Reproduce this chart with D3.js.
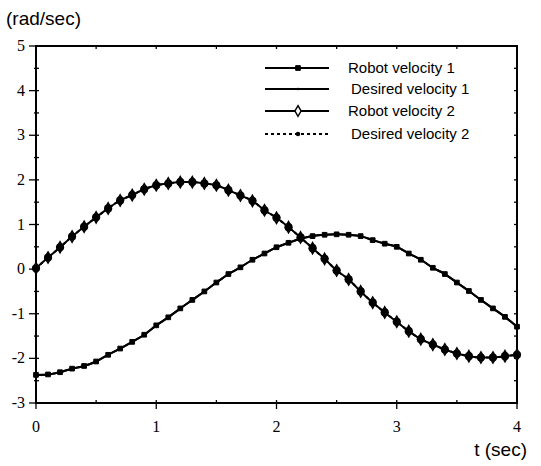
<!DOCTYPE html>
<html>
<head>
<meta charset="utf-8">
<script src="https://cdn.jsdelivr.net/npm/d3@7"></script>
<style>
  body { margin: 0; background: #fff; }
  text { fill: #000; }
</style>
</head>
<body>
<script>
var width = 541;
var height = 466;
var margin = {top: 46, right: 24, bottom: 63, left: 36};

// time samples every 0.1 s
var times = d3.range(0, 41).map(function(i) { return i / 10; });

// values (rad/sec)
var robot1 = [-2.37, -2.36, -2.31, -2.23, -2.17, -2.07, -1.92, -1.78, -1.63, -1.47,
  -1.26, -1.08, -0.88, -0.69, -0.50, -0.30, -0.11, 0.04, 0.21, 0.35,
  0.49, 0.59, 0.68, 0.74, 0.77, 0.78, 0.77, 0.74, 0.65, 0.57,
  0.50, 0.35, 0.21, 0.03, -0.11, -0.30, -0.49, -0.69, -0.88, -1.07, -1.29];
var desired1 = robot1.slice();
var robot2 = [0.02, 0.26, 0.49, 0.73, 0.95, 1.16, 1.36, 1.54, 1.66, 1.79,
  1.88, 1.92, 1.95, 1.95, 1.92, 1.88, 1.77, 1.65, 1.53, 1.32,
  1.15, 0.94, 0.71, 0.47, 0.23, -0.03, -0.23, -0.50, -0.75, -0.97,
  -1.18, -1.39, -1.57, -1.69, -1.80, -1.89, -1.95, -1.98, -1.98, -1.95, -1.92];
var desired2 = robot2.slice();

var legendLabels = ["Robot velocity 1", "Desired velocity 1", "Robot velocity 2", "Desired velocity 2"];
var xTicks = [0, 1, 2, 3, 4];
var yTicks = [-3, -2, -1, 0, 1, 2, 3, 4, 5];

var xScale = d3.scaleLinear()
    .domain([0, 4])
    .range([margin.left, width - margin.right]);
var yScale = d3.scaleLinear()
    .domain([-3, 5])
    .range([height - margin.bottom, margin.top]);

var svg = d3.select('body')
    .append('svg')
        .attr('width', width)
        .attr('height', height);

var x0 = xScale(0), x1 = xScale(4), y0 = yScale(-3), y1 = yScale(5);

// half-unit ticks
var xMinor = d3.range(0, 4.01, 0.5);
var yMinor = d3.range(-3, 5.01, 0.5);

var ticks = svg.append('g').attr('stroke', '#000').attr('stroke-width', 1.3);
ticks.selectAll('.xb').data(xMinor).enter().append('line')
    .attr('x1', d => xScale(d)).attr('x2', d => xScale(d))
    .attr('y1', y0 - 3)
    .attr('y2', d => Number.isInteger(d) ? y0 + 6 : y0);
ticks.selectAll('.xt').data(xMinor).enter().append('line')
    .attr('x1', d => xScale(d)).attr('x2', d => xScale(d))
    .attr('y1', y1).attr('y2', y1 + 3);
ticks.selectAll('.yl').data(yMinor).enter().append('line')
    .attr('y1', d => yScale(d)).attr('y2', d => yScale(d))
    .attr('x1', d => Number.isInteger(d) ? x0 - 7 : x0 - 2).attr('x2', x0 + 3);
ticks.selectAll('.yr').data(yMinor).enter().append('line')
    .attr('y1', d => yScale(d)).attr('y2', d => yScale(d))
    .attr('x1', x1 - 3).attr('x2', x1);

// frame
svg.append('rect')
    .attr('x', x0).attr('y', y1)
    .attr('width', x1 - x0).attr('height', y0 - y1)
    .attr('fill', 'none')
    .attr('stroke', '#000')
    .attr('stroke-width', 2);

// tick labels
svg.selectAll('.xlab').data(xTicks).enter().append('text')
    .attr('x', d => xScale(d))
    .attr('y', y0 + 29)
    .attr('text-anchor', 'middle')
    .style('font-family', '"Liberation Serif", serif')
    .style('font-size', '16px')
    .text(d => d);
svg.selectAll('.ylab').data(yTicks).enter().append('text')
    .attr('x', 25)
    .attr('y', d => yScale(d) + 5)
    .attr('text-anchor', 'end')
    .style('font-family', '"Liberation Serif", serif')
    .style('font-size', '16px')
    .text(d => d);

// axis titles
svg.append('text')
    .attr('x', 6).attr('y', 25)
    .style('font-family', '"Liberation Sans", Arial, sans-serif')
    .style('font-size', '19px')
    .text('(rad/sec)');
svg.append('text')
    .attr('x', 527).attr('y', 456)
    .attr('text-anchor', 'end')
    .style('font-family', '"Liberation Sans", Arial, sans-serif')
    .style('font-size', '19px')
    .text('t (sec)');

var line = d3.line()
    .x(d => xScale(d[0]))
    .y(d => yScale(d[1]))
    .curve(d3.curveMonotoneX);

function pairs(vals) { return times.map(function(t, i) { return [t, vals[i]]; }); }

var series = [
  {name: legendLabels[0], data: pairs(robot1), dash: null, marker: d3.symbolSquare, size: 22, fill: '#000', sw: 1},
  {name: legendLabels[1], data: pairs(desired1), dash: null, marker: d3.symbolSquare, size: 5, fill: '#000', sw: 0},
  {name: legendLabels[2], data: pairs(robot2), dash: null, marker: d3.symbolDiamond, size: 36, fill: '#fff', sw: 1.5},
  {name: legendLabels[3], data: pairs(desired2), dash: '3,3', marker: d3.symbolCircle, size: 52, fill: '#000', sw: 0}
];

series.forEach(function(s) {
  svg.append('path')
      .datum(s.data)
      .attr('fill', 'none')
      .attr('stroke', '#000')
      .attr('stroke-width', 2)
      .attr('stroke-dasharray', s.dash)
      .attr('d', line);
});
series.forEach(function(s) {
  svg.append('g').selectAll('path').data(s.data).enter().append('path')
      .attr('transform', d => 'translate(' + xScale(d[0]) + ',' + yScale(d[1]) + ')')
      .attr('d', d3.symbol().type(s.marker).size(s.size))
      .attr('fill', s.fill)
      .attr('stroke', '#000')
      .attr('stroke-width', s.sw);
});

// legend
var legendY = [68, 89, 111, 134];
var legendScale = [1, 1, 0.9, 0.3];
var legend = svg.append('g');
series.forEach(function(s, i) {
  var ly = legendY[i];
  legend.append('line')
      .attr('x1', 265).attr('x2', 329)
      .attr('y1', ly).attr('y2', ly)
      .attr('stroke', '#000')
      .attr('stroke-width', 2)
      .attr('stroke-dasharray', s.dash);
  legend.append('path')
      .attr('transform', 'translate(298,' + ly + ')')
      .attr('d', d3.symbol().type(s.marker).size(s.size * legendScale[i]))
      .attr('fill', s.fill)
      .attr('stroke', '#000')
      .attr('stroke-width', s.sw);
  legend.append('text')
      .attr('x', i === 1 || i === 3 ? 351 : 348)
      .attr('y', ly + 5)
      .style('font-family', '"Liberation Sans", Arial, sans-serif')
      .style('font-size', '15px')
      .text(s.name);
});
</script>
</body>
</html>
